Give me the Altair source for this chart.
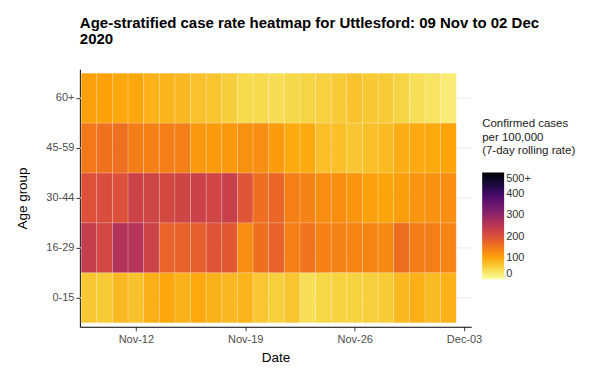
import altair as alt
import pandas as pd

age_groups = ["60+", "45-59", "30-44", "16-29", "0-15"]
dates = pd.date_range("2020-11-09", "2020-12-02", freq="D")

rate_60plus = [105, 103, 98, 98, 88, 85, 80, 72, 68, 58, 45, 45, 42, 48, 52, 56, 62, 70, 64, 62, 52, 40, 35, 25]
rate_45_59 = [150, 158, 161, 145, 140, 142, 143, 113, 111, 113, 122, 125, 110, 95, 95, 75, 73, 67, 73, 78, 92, 94, 96, 101]
rate_30_44 = [200, 208, 200, 228, 223, 216, 223, 228, 221, 232, 195, 162, 173, 142, 138, 125, 124, 118, 104, 100, 108, 118, 121, 125]
rate_16_29 = [236, 220, 262, 259, 226, 176, 178, 181, 196, 191, 127, 161, 178, 142, 157, 140, 138, 136, 134, 132, 164, 145, 143, 138]
rate_0_15 = [65, 62, 80, 72, 90, 98, 87, 97, 87, 80, 84, 66, 57, 68, 40, 50, 54, 54, 57, 61, 81, 89, 78, 88]

# inferno palette, reversed (0 -> light yellow, 500 -> black)
inferno_rev = ["#fcffa4", "#f6d746", "#fca50a", "#f37819", "#dd513a", "#bc3754",
               "#932667", "#6a176e", "#420a68", "#160b39", "#000004"]
legend_values = [0, 100, 200, 300, 400, 500]

series = {
    "60+": rate_60plus,
    "45-59": rate_45_59,
    "30-44": rate_30_44,
    "16-29": rate_16_29,
    "0-15": rate_0_15,
}

rows = []
for age, vals in series.items():
    for d, v in zip(dates, vals):
        rows.append({
            "age": age,
            "start": (d - pd.Timedelta(hours=12)).strftime("%Y-%m-%dT%H:%M:%S"),
            "end": (d + pd.Timedelta(hours=12)).strftime("%Y-%m-%dT%H:%M:%S"),
            "rate": v,
        })
df = pd.DataFrame(rows)
grid_df = pd.DataFrame({"age": age_groups})

FONT = "Liberation Sans"

y_enc = alt.Y(
    "age:N",
    title="Age group",
    sort=age_groups,
    scale=alt.Scale(paddingInner=0, paddingOuter=0.08),
    axis=alt.Axis(grid=False, tickBand="center", titlePadding=16),
)

grid = alt.Chart(grid_df).mark_rule(color="#ebebeb", strokeWidth=1).encode(
    y=alt.Y("age:N", sort=age_groups, title="Age group", bandPosition=0.5),
)

tiles = alt.Chart(df).mark_rect(
    stroke="white", strokeWidth=0.6, strokeOpacity=0.3
).encode(
    x=alt.X(
        "start:T",
        title="Date",
        scale=alt.Scale(
            domain=[
                alt.DateTime(year=2020, month=11, date=8, hours=10),
                alt.DateTime(year=2020, month=12, date=3, hours=11),
            ],
            nice=False,
        ),
        axis=alt.Axis(
            values=[
                alt.DateTime(year=2020, month=11, date=12),
                alt.DateTime(year=2020, month=11, date=19),
                alt.DateTime(year=2020, month=11, date=26),
                alt.DateTime(year=2020, month=12, date=3),
            ],
            format="%b-%d",
            grid=False,
            labelPadding=3,
            titlePadding=6,
        ),
    ),
    x2="end:T",
    y=y_enc,
    color=alt.Color(
        "rate:Q",
        scale=alt.Scale(range=inferno_rev, interpolate="rgb", domain=[0, 500], clamp=True),
        legend=alt.Legend(
            title=["Confirmed cases", " per 100,000", " (7-day rolling rate)"],
            orient="none",
            legendX=403,
            legendY=49,
            values=legend_values,
            labelExpr="datum.value == 500 ? '500+' : datum.label",
            gradientLength=107,
            gradientThickness=22,
            titleFontSize=11.5,
            titleFontWeight="normal",
            titleColor="#1a1a1a",
            titleLineHeight=13.5,
            titlePadding=16,
            labelFontSize=11,
            labelColor="#333333",
            labelFont=FONT,
            titleFont=FONT,
            gradientStrokeWidth=0,
        ),
    ),
)

chart = alt.layer(grid, tiles).properties(
    width=392,
    height=258,
    padding={"left": 7, "top": 8, "right": 5, "bottom": 5},
    title=alt.TitleParams(
        text=["Age-stratified case rate heatmap for Uttlesford: 09 Nov to 02 Dec", "2020"],
        anchor="start",
        frame="group",
        font=FONT,
        fontSize=15,
        fontWeight="bold",
        color="black",
        lineHeight=16,
        offset=22,
    ),
).configure_view(
    stroke=None
).configure_axis(
    domainColor="black",
    domainWidth=1,
    tickColor="#333333",
    tickSize=4,
    labelFont=FONT,
    labelFontSize=11,
    labelColor="#4d4d4d",
    titleFont=FONT,
    titleFontSize=13.5,
    titleFontWeight="normal",
    titleColor="black",
)

chart.save("out.html", embed_options={"renderer": "svg", "actions": False})
